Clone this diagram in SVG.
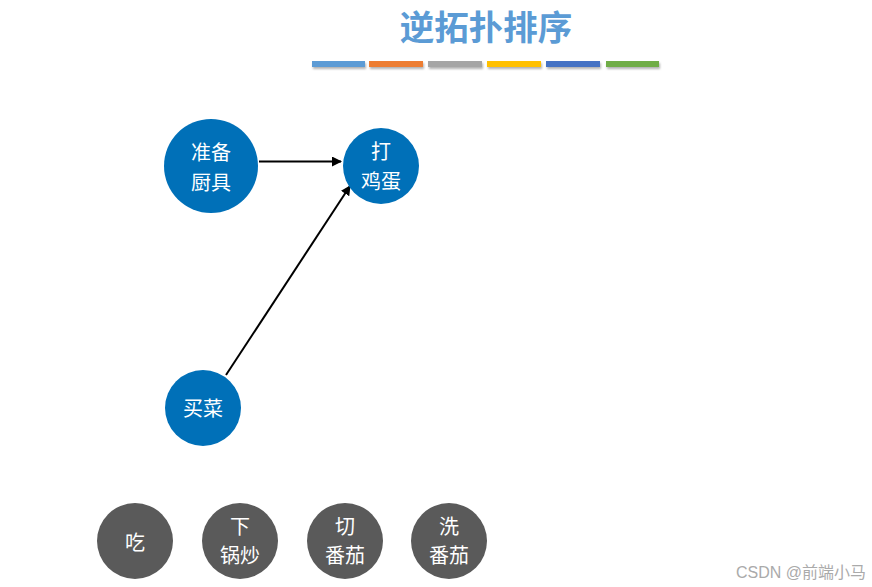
<svg xmlns="http://www.w3.org/2000/svg" width="872" height="587" viewBox="0 0 872 587">
<defs>
<style>
.t{font-family:"Noto Sans CJK SC","Liberation Sans",sans-serif;}
.lbl{fill:#fff;font-size:20px;text-anchor:middle;dominant-baseline:central;}
.blue{fill:#0070B8;}
.gray{fill:#5A5A5A;}
.edge{stroke:#000;stroke-width:2;fill:none;marker-end:url(#arr);}
</style>
<marker id="arr" viewBox="0 0 10 10" refX="9" refY="5" markerWidth="5" markerHeight="5" orient="auto" markerUnits="strokeWidth">
<path d="M0,0 L10,5 L0,10 z" fill="#000"/>
</marker>
<filter id="sh" x="-10%" y="-50%" width="120%" height="250%">
<feDropShadow dx="1" dy="2" stdDeviation="1" flood-color="#000" flood-opacity="0.3"/>
</filter>
</defs>
<rect width="872" height="587" fill="#fff"/>
<g id="title">
<text class="t" x="486" y="25" font-size="34.5" fill="#5B9BD5" text-anchor="middle" dominant-baseline="central" font-weight="bold">逆拓扑排序</text>
<g filter="url(#sh)">
<rect x="312" y="61" width="53" height="6" fill="#5B9BD5"/>
<rect x="369" y="61" width="54" height="6" fill="#ED7D31"/>
<rect x="428" y="61" width="54" height="6" fill="#A5A5A5"/>
<rect x="487" y="61" width="54" height="6" fill="#FFC000"/>
<rect x="546" y="61" width="54" height="6" fill="#4472C4"/>
<rect x="606" y="61" width="53" height="6" fill="#70AD47"/>
</g>
</g>
<g id="connectors">
<line class="edge" x1="259" y1="161.5" x2="341" y2="161.5"/>
<line class="edge" x1="226" y1="375" x2="350" y2="186"/>
</g>
<g id="n-prep">
<circle class="blue" cx="211" cy="166" r="47"/>
<text class="t lbl" x="211" y="151">准备</text>
<text class="t lbl" x="211" y="181">厨具</text>
</g>
<g id="n-egg">
<circle class="blue" cx="381" cy="166" r="38"/>
<text class="t lbl" x="381" y="150">打</text>
<text class="t lbl" x="381" y="180">鸡蛋</text>
</g>
<g id="n-buy">
<circle class="blue" cx="203" cy="408" r="38"/>
<text class="t lbl" x="203" y="407">买菜</text>
</g>
<g id="n-eat">
<circle class="gray" cx="135" cy="541" r="38"/>
<text class="t lbl" x="135" y="541">吃</text>
</g>
<g id="n-fry">
<circle class="gray" cx="240" cy="541" r="38"/>
<text class="t lbl" x="240" y="525">下</text>
<text class="t lbl" x="240" y="554">锅炒</text>
</g>
<g id="n-cut">
<circle class="gray" cx="345" cy="541" r="38"/>
<text class="t lbl" x="345" y="525">切</text>
<text class="t lbl" x="345" y="554">番茄</text>
</g>
<g id="n-wash">
<circle class="gray" cx="449" cy="541" r="38"/>
<text class="t lbl" x="449" y="525">洗</text>
<text class="t lbl" x="449" y="554">番茄</text>
</g>
<text x="866" y="572" font-size="16" fill="#AAAAAA" text-anchor="end" dominant-baseline="central" font-family="'Liberation Sans','Noto Sans CJK SC',sans-serif">CSDN @前端小马</text>
</svg>
